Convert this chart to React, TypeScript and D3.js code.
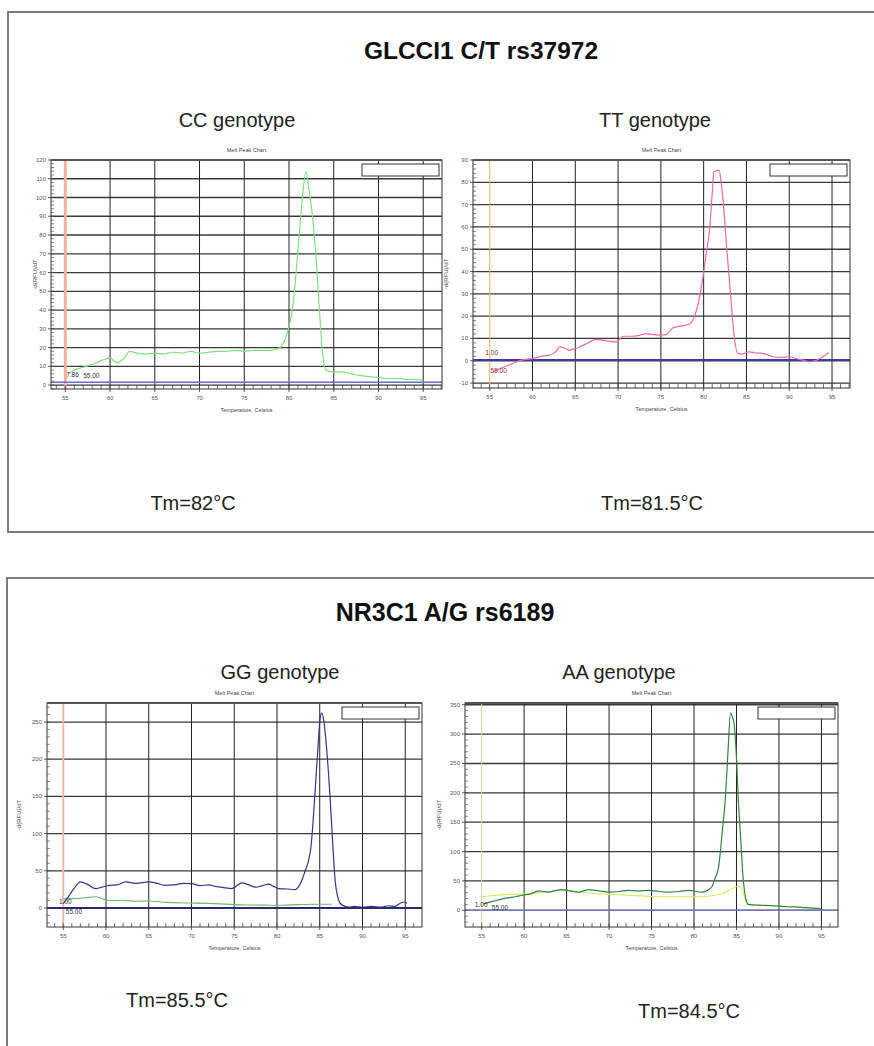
import React from 'react';
import * as d3 from 'd3';

// x ticks shared by every melt chart
const tempTicks = [55, 60, 65, 70, 75, 80, 85, 90, 95];
const gridTemps = [60, 65, 70, 75, 80, 85, 90, 95];

// CC genotype (GLCCI1)
const ccYTicks = [0, 10, 20, 30, 40, 50, 60, 70, 80, 90, 100, 110, 120];
const ccTemps = [55.3, 56, 57, 58, 59, 60, 60.7, 61.5, 62.2, 63, 64, 65, 66, 67, 68, 69, 70, 71, 72, 73, 74, 75, 76, 77, 78, 79, 79.6, 80.1, 80.5, 81, 81.5, 81.9, 82.2, 82.5, 83, 83.4, 83.8, 84.1, 85, 86, 87, 88, 89, 90, 91, 92, 93, 94, 95];
const ccValues = [6, 8, 9.5, 11, 13, 14.5, 12, 14, 18, 17, 16.5, 17, 16.5, 17.5, 17, 18, 17, 17.5, 18, 18, 18.5, 18, 18.5, 18.5, 18.5, 20, 25, 33, 45, 72, 100, 114, 105, 95, 70, 40, 15, 8, 7, 7, 6, 5, 4.5, 4, 3.5, 3.5, 3, 3, 2.5];

// TT genotype (GLCCI1)
const ttYTicks = [-10, 0, 10, 20, 30, 40, 50, 60, 70, 80, 90];
const ttTemps = [55.4, 56.5, 57.5, 58.2, 59, 60, 61, 62, 62.7, 63.2, 63.8, 64.3, 65, 65.5, 66.5, 67.4, 68.5, 69.8, 70.6, 71.5, 72.5, 73.3, 74.1, 75, 75.6, 76.4, 77.3, 78.4, 79.1, 79.6, 79.9, 80.3, 80.7, 81, 81.2, 81.8, 82.1, 82.4, 82.7, 83, 83.3, 83.6, 84, 84.5, 85.3, 86, 86.9, 88.1, 89, 90, 91, 91.6, 92.4, 93, 93.6, 94.6];
const ttValues = [-5, -3, -1.5, -0.4, 0.5, 1, 2, 2.5, 4, 6.2, 5.5, 4.7, 5.5, 6.2, 8, 9.6, 9, 8.4, 11, 11, 11.4, 12.2, 11.7, 11.5, 11.7, 14.7, 15.5, 16.6, 21.8, 30, 37, 48, 59, 75, 84.7, 85.5, 78, 66, 50, 36.6, 22, 10, 3.3, 3, 4, 3.5, 3.3, 1.8, 1.5, 1.8, 0.8, 0.3, -0.4, 0, 1, 3.7];

// GG genotype (NR3C1)
const ggYTicks = [0, 50, 100, 150, 200, 250];
const ggTemps = [55, 55.6, 56.25, 57, 57.8, 58.8, 59.5, 60.4, 61.3, 62.3, 63.5, 65, 66, 66.9, 68, 69, 70, 71, 72, 72.8, 74, 74.7, 75.9, 76.7, 77.5, 78.3, 79, 79.6, 80.2, 81.2, 82.1, 82.6, 82.9, 83.3, 83.7, 84, 84.2, 84.5, 84.8, 85, 85.2, 85.5, 85.8, 86.2, 86.5, 86.8, 87.1, 87.4, 88, 88.4, 89, 90, 91, 92.3, 93, 93.8, 94.5, 95, 95.2];
const ggBlue = [6, 15, 26, 35, 32, 26, 28, 30.5, 31, 35, 33, 35, 33, 30.5, 31, 33, 32.8, 30, 31, 29, 27, 26, 33.7, 31, 28, 30, 32, 29, 26, 25.5, 24.7, 30, 37, 50, 64, 85, 113, 165, 217, 250, 262, 250, 215, 150, 90, 37, 15, 6, 2, 1.3, 2, 1, 2, 1.3, 3, 2, 7, 8, 6];
const ggGreenTemps = [55, 56.2, 57.5, 58.8, 60.4, 62, 63.5, 65, 67, 68.9, 70.5, 72.8, 75, 76.7, 78.5, 80.5, 82.5, 84.4, 86.4];
const ggGreen = [12.6, 12.6, 13.5, 15, 10, 10, 9, 9.4, 7.5, 6.7, 6.5, 5.8, 4.5, 4, 3.8, 3.6, 4.5, 5, 5];

// AA genotype (NR3C1)
const aaYTicks = [0, 50, 100, 150, 200, 250, 300, 350];
const aaTemps = [55.2, 56, 56.8, 58, 59, 59.8, 60.8, 61.7, 62.3, 62.9, 63.6, 64.4, 65.4, 66.4, 67, 67.6, 68.8, 70, 71.2, 72.3, 73.5, 74.7, 75.8, 77, 78.2, 79.4, 80.2, 81, 81.6, 82.1, 82.5, 82.9, 83.3, 83.7, 84, 84.3, 84.5, 84.7, 85, 85.2, 85.5, 85.8, 86.1, 86.4, 87, 88, 89, 90, 91, 91.9, 93, 94, 94.9];
const aaGreen = [11, 14, 17, 21, 23, 25.6, 28, 33, 32, 31, 33, 35, 33, 31, 33, 35, 33, 31, 32, 34, 33, 34, 32, 31, 32, 34, 32, 31, 34, 40, 55, 74, 130, 193, 270, 336, 330, 319, 260, 193, 120, 51, 20, 10, 9, 8.5, 8, 7, 6, 5.7, 4.5, 3.5, 2.8];
const aaLimeTemps = [55, 56.8, 58.5, 60.7, 62.5, 64.4, 66.5, 68.3, 70.3, 72.3, 74.3, 76.2, 78.5, 80.2, 81, 82.2, 83.4, 84.5, 85, 85.5, 85.9, 86.3, 87, 88];
const aaLime = [23, 25.6, 27, 28.5, 31, 34, 31, 28.5, 27, 25.6, 24, 23, 23, 23, 23, 25, 28.5, 37, 40, 40, 25, 10, 9, 8];

const FONT = '"Liberation Sans", Arial, sans-serif';

function MeltChart({ box, xDomain, yDomain, yTicks, yMinorStep, series, threshold, begin, markLabels, title, titleX, titleY, yLabelX }) {
  const x = d3.scaleLinear().domain(xDomain).range([box.x0, box.x1]);
  const y = d3.scaleLinear().domain(yDomain).range([box.y1, box.y0]);
  const line = d3.line<[number, number]>()
    .x((d) => x(d[0]))
    .y((d) => y(d[1]))
    .curve(d3.curveMonotoneX);

  const minorY = d3.range(Math.ceil(yDomain[0] / yMinorStep) * yMinorStep, yDomain[1], yMinorStep);
  const minorX = d3.range(Math.ceil(xDomain[0]), xDomain[1], 1);
  const cx = (box.x0 + box.x1) / 2;
  const cy = (box.y0 + box.y1) / 2;

  return (
    <g>
      <text x={titleX} y={titleY} textAnchor="middle" fontSize={20} fill="#222" fontFamily={FONT}>{title}</text>
      <text x={cx} y={box.y0 - 8} textAnchor="middle" fontSize={5.5} fill="#444" fontFamily={FONT}>Melt Peak Chart</text>

      {/* horizontal grid */}
      {yTicks.filter((t) => t > yDomain[0]).map((t) => (
        <line key={'h' + t} x1={box.x0} x2={box.x1} y1={y(t)} y2={y(t)} stroke="#3a3a3a" strokeWidth={1.3} />
      ))}
      {/* vertical grid */}
      {gridTemps.map((t) => (
        <line key={'v' + t} x1={x(t)} x2={x(t)} y1={box.y0} y2={box.y1} stroke="#222" strokeWidth={1} />
      ))}

      {/* begin temperature marker */}
      <line x1={x(55)} x2={x(55)} y1={box.y0} y2={box.y1} stroke={begin.color} strokeWidth={begin.width} />

      {/* threshold */}
      <line x1={box.x0} x2={box.x1} y1={y(threshold.value)} y2={y(threshold.value)} stroke={threshold.color} strokeWidth={threshold.width} />

      {series.map((s, i) => (
        <path key={i} d={line(d3.zip(s.temps, s.values) as [number, number][]) || ''} fill="none" stroke={s.color} strokeWidth={s.width} />
      ))}

      {markLabels.map((m, i) => (
        <text key={i} x={x(m.t)} y={y(m.v)} fontSize={6.5} fill={m.color} fontFamily={FONT}>{m.text}</text>
      ))}

      {/* frame */}
      <rect x={box.x0} y={box.y0} width={box.x1 - box.x0} height={box.y1 - box.y0} fill="none" stroke="#333" strokeWidth={1} />
      <line x1={box.x0} x2={box.x1} y1={box.y0} y2={box.y0} stroke="#555" strokeWidth={2} />

      {/* y axis ticks */}
      {minorY.map((t) => (
        <line key={'my' + t} x1={box.x0} x2={box.x0 + 3} y1={y(t)} y2={y(t)} stroke="#555" strokeWidth={0.7} />
      ))}
      {yTicks.map((t) => (
        <g key={'yt' + t}>
          <line x1={box.x0 - 3} x2={box.x0} y1={y(t)} y2={y(t)} stroke="#333" strokeWidth={0.8} />
          <text x={box.x0 - 5} y={y(t) + 2} textAnchor="end" fontSize={6} fill="#555" fontFamily={FONT}>{t}</text>
        </g>
      ))}

      {/* x axis ticks */}
      {minorX.map((t) => (
        <line key={'mx' + t} x1={x(t)} x2={x(t)} y1={box.y1 - 4} y2={box.y1} stroke="#444" strokeWidth={0.8} />
      ))}
      {tempTicks.map((t) => (
        <g key={'xt' + t}>
          <line x1={x(t)} x2={x(t)} y1={box.y1} y2={box.y1 + 3} stroke="#333" strokeWidth={0.8} />
          <text x={x(t)} y={box.y1 + 11} textAnchor="middle" fontSize={6} fill="#555" fontFamily={FONT}>{t}</text>
        </g>
      ))}

      <text x={cx} y={box.y1 + 23} textAnchor="middle" fontSize={5.5} fill="#444" fontFamily={FONT}>Temperature, Celsius</text>
      <text transform={`translate(${yLabelX},${cy}) rotate(-90)`} textAnchor="middle" fontSize={6} fill="#444" fontFamily={FONT}>-d(RFU)/dT</text>

      {/* empty legend */}
      <rect x={box.x1 - 80} y={box.y0 + 4} width={77} height={12} fill="#fff" stroke="#333" strokeWidth={1} />
    </g>
  );
}

export default function App() {
  return (
    <svg width={874} height={1046} style={{ position: 'absolute', left: 0, top: 0, background: '#fff' }}>
      <rect x={0} y={0} width={874} height={1046} fill="#fff" />
      {/* panel frames */}
      <rect x={8} y={12} width={880} height={520} fill="none" stroke="#7a7a7a" strokeWidth={2} />
      <rect x={7} y={578} width={880} height={490} fill="none" stroke="#7a7a7a" strokeWidth={2} />

      <text x={481} y={59} textAnchor="middle" fontSize={24.5} fontWeight="bold" fill="#111" fontFamily={FONT}>GLCCI1 C/T rs37972</text>
      <text x={445} y={621} textAnchor="middle" fontSize={25} fontWeight="bold" fill="#111" fontFamily={FONT}>NR3C1 A/G rs6189</text>

      <MeltChart
        box={{ x0: 51, x1: 442, y0: 160, y1: 389 }}
        xDomain={[53.4, 97.1]}
        yDomain={[-2.1, 120]}
        yTicks={ccYTicks}
        yMinorStep={2}
        title="CC genotype"
        titleX={237}
        titleY={127}
        yLabelX={37}
        series={[{ temps: ccTemps, values: ccValues, color: '#7fe27f', width: 1.2 }]}
        threshold={{ value: 1.5, color: '#6a6ad0', width: 1.5 }}
        begin={{ color: '#f6b09c', width: 3 }}
        markLabels={[{ text: '7.86', t: 55.1, v: 4.5, color: '#333' }, { text: '55.00', t: 57.0, v: 3.5, color: '#333' }]}
      />
      <MeltChart
        box={{ x0: 473, x1: 850, y0: 160, y1: 388 }}
        xDomain={[53.05, 97.1]}
        yDomain={[-12.2, 90]}
        yTicks={ttYTicks}
        yMinorStep={2}
        title="TT genotype"
        titleX={655}
        titleY={127}
        yLabelX={448}
        series={[{ temps: ttTemps, values: ttValues, color: '#f06aa6', width: 1.2 }]}
        threshold={{ value: 0.3, color: '#3a3aa8', width: 2 }}
        begin={{ color: '#f0b060', width: 1 }}
        markLabels={[{ text: '1.00', t: 54.5, v: 2.5, color: '#6b3030' }, { text: '55.00', t: 55.1, v: -5.5, color: '#8b2a2a' }]}
      />
      <MeltChart
        box={{ x0: 47, x1: 422, y0: 703, y1: 927 }}
        xDomain={[53.1, 96.96]}
        yDomain={[-25.6, 275.6]}
        yTicks={ggYTicks}
        yMinorStep={10}
        title="GG genotype"
        titleX={280}
        titleY={679}
        yLabelX={21}
        series={[
          { temps: ggGreenTemps, values: ggGreen, color: '#6fb86f', width: 1.1 },
          { temps: ggTemps, values: ggBlue, color: '#34348e', width: 1.2 },
        ]}
        threshold={{ value: 0, color: '#2a2a70', width: 2 }}
        begin={{ color: '#f3b5a8', width: 2 }}
        markLabels={[{ text: '1.00', t: 54.5, v: 5, color: '#333' }, { text: '55.00', t: 55.3, v: -8, color: '#333' }]}
      />
      <MeltChart
        box={{ x0: 465, x1: 838, y0: 703, y1: 927 }}
        xDomain={[53.04, 96.95]}
        yDomain={[-28.5, 353]}
        yTicks={aaYTicks}
        yMinorStep={10}
        title="AA genotype"
        titleX={619}
        titleY={679}
        yLabelX={441}
        series={[
          { temps: aaLimeTemps, values: aaLime, color: '#cfee5a', width: 1.1 },
          { temps: aaTemps, values: aaGreen, color: '#2f8540', width: 1.2 },
        ]}
        threshold={{ value: 0, color: '#8c8cf0', width: 1.2 }}
        begin={{ color: '#f3c6a0', width: 1 }}
        markLabels={[{ text: '1.00', t: 54.2, v: 5, color: '#333' }, { text: '55.00', t: 56.2, v: 1, color: '#333' }]}
      />

      <text x={193} y={510} textAnchor="middle" fontSize={20} fill="#222" fontFamily={FONT}>Tm=82°C</text>
      <text x={652} y={510} textAnchor="middle" fontSize={20} fill="#222" fontFamily={FONT}>Tm=81.5°C</text>
      <text x={177} y={1007} textAnchor="middle" fontSize={20} fill="#222" fontFamily={FONT}>Tm=85.5°C</text>
      <text x={689} y={1018} textAnchor="middle" fontSize={20} fill="#222" fontFamily={FONT}>Tm=84.5°C</text>
    </svg>
  );
}
